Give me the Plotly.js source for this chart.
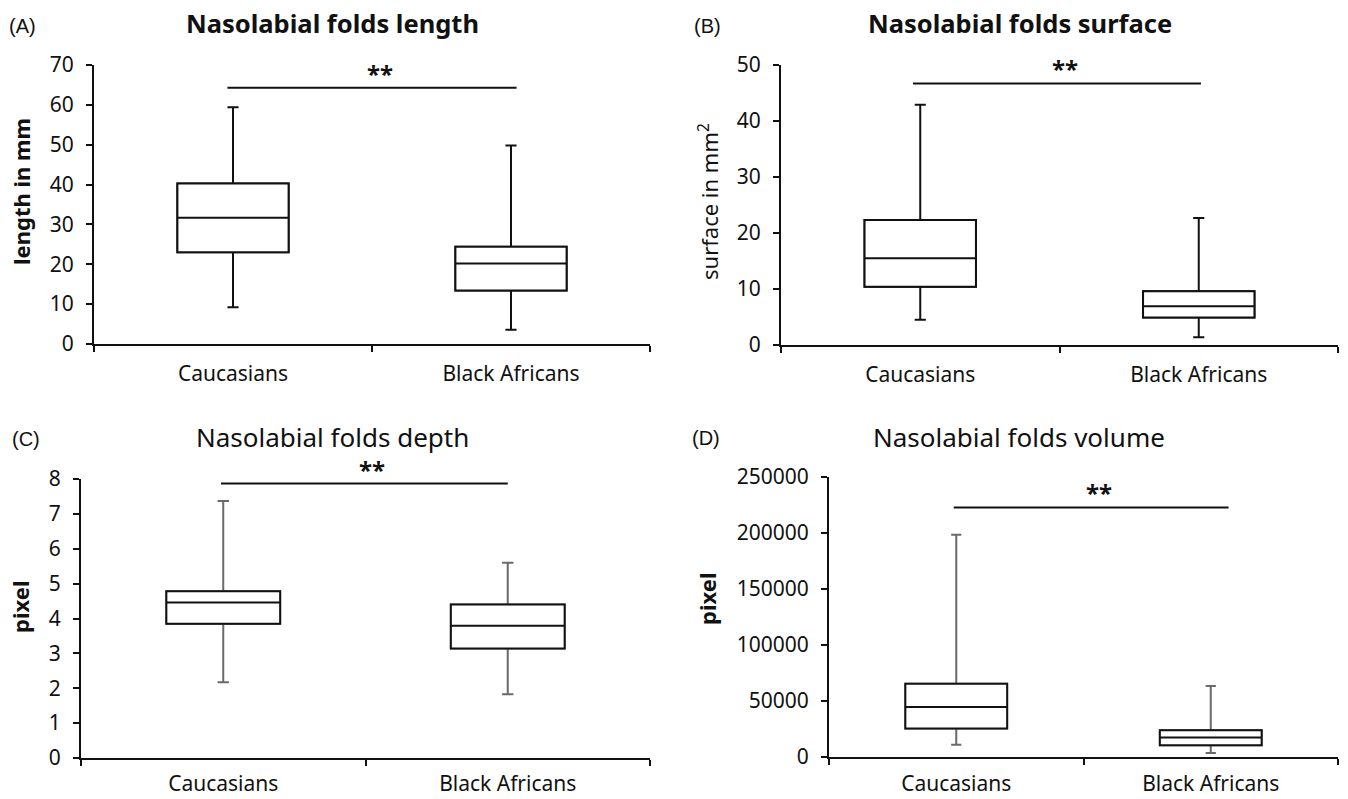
<!DOCTYPE html>
<html>
<head>
<meta charset="utf-8">
<script src="https://cdn.plot.ly/plotly-3.0.1.min.js"></script>
<style>html,body{margin:0;padding:0;background:#fff}#chart{width:1348px;height:799px}</style>
</head>
<body>
<div id="chart"></div>
<script>
// ---- data ----
const categories = ['Caucasians', 'Black Africans'];

const lengthLower  = [9.2, 3.6];
const lengthQ1     = [23.0, 13.4];
const lengthMedian = [31.7, 20.2];
const lengthQ3     = [40.3, 24.4];
const lengthUpper  = [59.4, 49.8];

const surfaceLower  = [4.5, 1.4];
const surfaceQ1     = [10.4, 4.9];
const surfaceMedian = [15.5, 6.9];
const surfaceQ3     = [22.3, 9.6];
const surfaceUpper  = [42.9, 22.7];

const depthLower  = [2.17, 1.83];
const depthQ1     = [3.85, 3.14];
const depthMedian = [4.46, 3.79];
const depthQ3     = [4.78, 4.40];
const depthUpper  = [7.37, 5.60];

const volumeLower  = [11000, 3600];
const volumeQ1     = [25400, 10400];
const volumeMedian = [44700, 17300];
const volumeQ3     = [65300, 23900];
const volumeUpper  = [198400, 63500];

const panelTitles = ['Nasolabial folds length', 'Nasolabial folds surface', 'Nasolabial folds depth', 'Nasolabial folds volume'];
const panelLetters = ['(A)', '(B)', '(C)', '(D)'];
const yTitles = ['length in mm', 'surface in mm<sup>2</sup>', 'pixel', 'pixel'];
const yMax = [70, 50, 8, 250000];
const yStep = [10, 10, 1, 50000];
const sigLevel = [64.3, 46.7, 7.87, 222800];
const sigLabel = '**';

// ---- layout helpers ----
const W = 1348, H = 799;
const px = v => v / W;
const py = v => 1 - v / H;
const FONT = 'Noto Sans, DejaVu Sans, sans-serif';

const panels = [
  {lower: lengthLower, q1: lengthQ1, med: lengthMedian, q3: lengthQ3, upper: lengthUpper,
   x: [94, 650], y: [65, 344], whisker: '#111', titleX: 332, titleY: 23, titleBold: true,
   letterX: 7, letterY: 26, ytX: 21, ytY: 192, ytBold: true, sig: [-0.02, 1.02], xStand: 10},
  {lower: surfaceLower, q1: surfaceQ1, med: surfaceMedian, q3: surfaceQ3, upper: surfaceUpper,
   x: [781, 1338], y: [65, 345], whisker: '#111', titleX: 1020, titleY: 23, titleBold: true,
   letterX: 692, letterY: 26, ytX: 708, ytY: 202, ytBold: false, sig: [-0.026, 1.008], xStand: 10},
  {lower: depthLower, q1: depthQ1, med: depthMedian, q3: depthQ3, upper: depthUpper,
   x: [81, 650], y: [479, 758], whisker: '#6a6a6a', titleX: 332, titleY: 437, titleBold: false,
   letterX: 10, letterY: 439, ytX: 20, ytY: 607, ytBold: true, sig: [-0.008, 1.0], xStand: 6},
  {lower: volumeLower, q1: volumeQ1, med: volumeMedian, q3: volumeQ3, upper: volumeUpper,
   x: [829, 1338], y: [477, 757], whisker: '#6a6a6a', titleX: 1019, titleY: 437, titleBold: false,
   letterX: 690, letterY: 438, ytX: 707, ytY: 599, ytBold: true, sig: [-0.01, 1.07], xStand: 7}
];

const data = [];
const layout = {
  width: W, height: H,
  margin: {l: 0, r: 0, t: 0, b: 0},
  paper_bgcolor: '#fff', plot_bgcolor: '#fff',
  showlegend: false, boxmode: 'overlay',
  font: {family: FONT, color: '#111'},
  annotations: [], shapes: []
};

panels.forEach((p, i) => {
  const n = i === 0 ? '' : String(i + 1);
  const xa = 'x' + n, ya = 'y' + n;
  // whiskers (full range)
  data.push({
    type: 'box', xaxis: xa, yaxis: ya, x: categories,
    lowerfence: p.lower, q1: p.q1, median: p.med, q3: p.q3, upperfence: p.upper,
    width: 0.4, whiskerwidth: 0.1, fillcolor: '#fff',
    line: {color: p.whisker, width: 2}, hoverinfo: 'skip'
  });
  // box body on top
  data.push({
    type: 'box', xaxis: xa, yaxis: ya, x: categories,
    lowerfence: p.q1, q1: p.q1, median: p.med, q3: p.q3, upperfence: p.q3,
    width: 0.4, whiskerwidth: 0.1, fillcolor: '#fff',
    line: {color: '#111', width: 2}, hoverinfo: 'skip'
  });
  layout['xaxis' + n] = {
    domain: [px(p.x[0]), px(p.x[1])], anchor: ya, type: 'category',
    range: [-0.5, 1.5], showgrid: false, zeroline: false,
    showline: true, linecolor: '#111', linewidth: 2,
    ticks: 'outside', tickson: 'boundaries', ticklen: 6, tickwidth: 2, tickcolor: '#111',
    ticklabelstandoff: p.xStand,
    tickfont: {family: FONT, size: 21, color: '#111'}, fixedrange: true
  };
  layout['yaxis' + n] = {
    domain: [py(p.y[1]), py(p.y[0])], anchor: xa,
    range: [0, yMax[i]], dtick: yStep[i], tick0: 0, tickformat: 'd',
    showgrid: false, zeroline: false,
    showline: true, linecolor: '#111', linewidth: 2,
    ticks: 'outside', ticklen: 6, tickwidth: 2, tickcolor: '#111',
    ticklabelstandoff: 8,
    tickfont: {family: FONT, size: 21, color: '#111'}, fixedrange: true
  };
  // significance bar
  layout.shapes.push({
    type: 'line', xref: xa, yref: ya, x0: p.sig[0], x1: p.sig[1], y0: sigLevel[i], y1: sigLevel[i],
    line: {color: '#111', width: 2}
  });
  layout.annotations.push({
    xref: xa, yref: ya, x: (p.sig[0] + p.sig[1]) / 2, y: sigLevel[i], text: '<b>' + sigLabel + '</b>',
    showarrow: false, xanchor: 'center', yanchor: 'bottom', xshift: 8, yshift: -4,
    font: {family: FONT, size: 24, color: '#111'}
  });
  // panel title
  layout.annotations.push({
    xref: 'paper', yref: 'paper', x: px(p.titleX), y: py(p.titleY),
    text: p.titleBold ? '<b>' + panelTitles[i] + '</b>' : panelTitles[i],
    showarrow: false, xanchor: 'center', yanchor: 'middle',
    font: {family: FONT, size: p.titleBold ? 25.5 : 26, color: '#111'}
  });
  // panel letter
  layout.annotations.push({
    xref: 'paper', yref: 'paper', x: px(p.letterX), y: py(p.letterY),
    text: panelLetters[i], showarrow: false, xanchor: 'left', yanchor: 'middle',
    font: {family: 'Liberation Sans, Arial, sans-serif', size: 20, color: '#111'}
  });
  // y-axis title
  layout.annotations.push({
    xref: 'paper', yref: 'paper', x: px(p.ytX), y: py(p.ytY),
    text: p.ytBold ? '<b>' + yTitles[i] + '</b>' : yTitles[i],
    showarrow: false, textangle: -90, xanchor: 'center', yanchor: 'middle',
    font: {family: FONT, size: 22, color: '#111'}
  });
});

Plotly.newPlot('chart', data, layout, {staticPlot: true, displayModeBar: false});
</script>
</body>
</html>
